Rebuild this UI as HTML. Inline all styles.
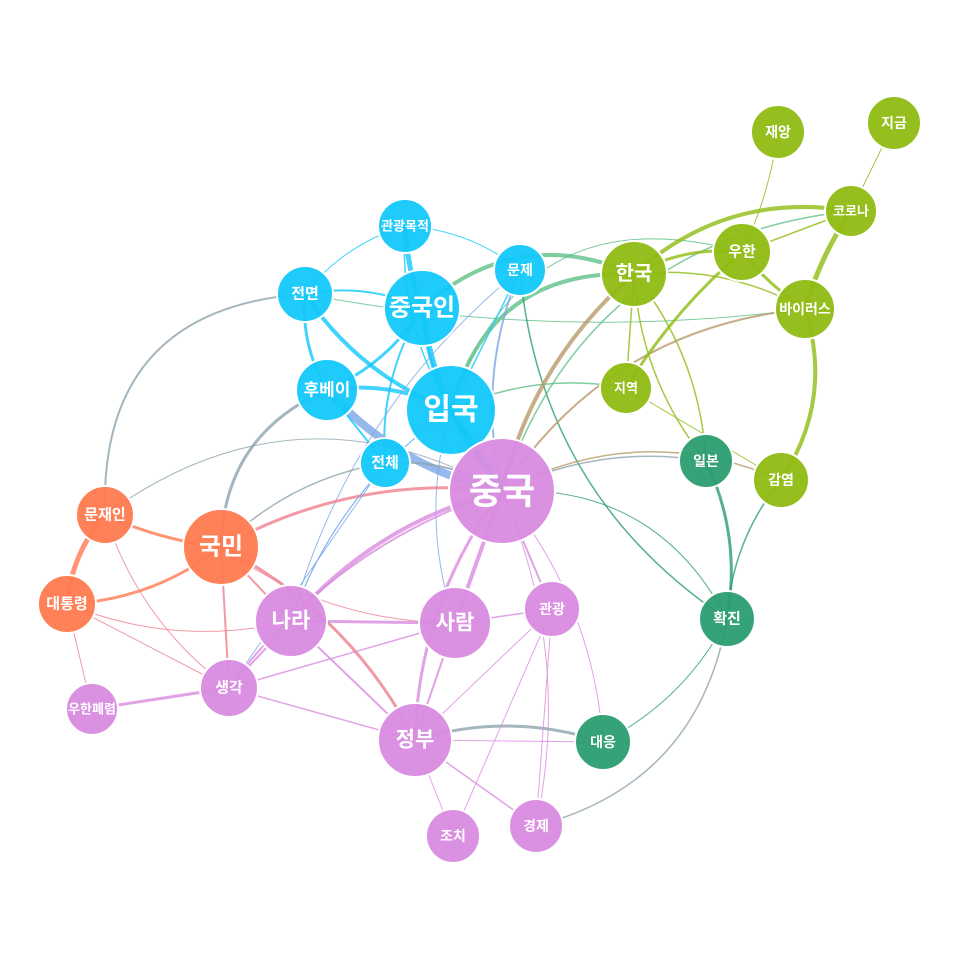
<!DOCTYPE html>
<html><head><meta charset="utf-8"><style>
html,body{margin:0;padding:0;background:#fff;width:960px;height:960px;overflow:hidden}
text{font-family:"Liberation Sans","Noto Sans CJK KR","NanumGothic",sans-serif;fill:#fff;font-weight:bold;text-anchor:middle;dominant-baseline:central}
</style></head><body>
<svg id="s" width="960" height="960" viewBox="0 0 960 960" xmlns="http://www.w3.org/2000/svg">
<g id="edges" fill="none"></g>
<g stroke="#fff" stroke-width="2" fill-opacity="0.95">
<circle cx="405" cy="226" r="27" fill="#12c8fa"/>
<circle cx="520" cy="270" r="26" fill="#12c8fa"/>
<circle cx="305" cy="294" r="28" fill="#12c8fa"/>
<circle cx="422" cy="308" r="38" fill="#12c8fa"/>
<circle cx="327" cy="390" r="31" fill="#12c8fa"/>
<circle cx="451" cy="410" r="45" fill="#12c8fa"/>
<circle cx="385" cy="463" r="25" fill="#12c8fa"/>
<circle cx="502" cy="491" r="53" fill="#d98be0"/>
<circle cx="634" cy="274" r="33" fill="#8fbc12"/>
<circle cx="742" cy="252" r="29" fill="#8fbc12"/>
<circle cx="778" cy="132" r="27" fill="#8fbc12"/>
<circle cx="894" cy="123" r="27" fill="#8fbc12"/>
<circle cx="851" cy="211" r="26" fill="#8fbc12"/>
<circle cx="805" cy="309" r="30" fill="#8fbc12"/>
<circle cx="626" cy="388" r="26" fill="#8fbc12"/>
<circle cx="706" cy="461" r="27" fill="#2a9d70"/>
<circle cx="781" cy="480" r="28" fill="#8fbc12"/>
<circle cx="727" cy="619" r="28" fill="#2a9d70"/>
<circle cx="603" cy="742" r="28" fill="#2a9d70"/>
<circle cx="105" cy="515" r="29" fill="#ff7a4f"/>
<circle cx="221" cy="547" r="38" fill="#ff7a4f"/>
<circle cx="67" cy="604" r="29" fill="#ff7a4f"/>
<circle cx="291" cy="621" r="36" fill="#d98be0"/>
<circle cx="455" cy="623" r="36" fill="#d98be0"/>
<circle cx="552" cy="609" r="28" fill="#d98be0"/>
<circle cx="229" cy="688" r="29" fill="#d98be0"/>
<circle cx="92" cy="709" r="26" fill="#d98be0"/>
<circle cx="415" cy="740" r="37" fill="#d98be0"/>
<circle cx="453" cy="836" r="27" fill="#d98be0"/>
<circle cx="536" cy="826" r="27" fill="#d98be0"/>
</g>
<g>
<text x="405" y="226" font-size="13">관광목적</text>
<text x="520" y="270" font-size="14">문제</text>
<text x="305" y="294" font-size="15">전면</text>
<text x="422" y="308" font-size="24">중국인</text>
<text x="327" y="390" font-size="17">후베이</text>
<text x="451" y="410" font-size="30">입국</text>
<text x="385" y="463" font-size="15">전체</text>
<text x="502" y="491" font-size="36">중국</text>
<text x="634" y="274" font-size="20">한국</text>
<text x="742" y="252" font-size="15">우한</text>
<text x="778" y="132" font-size="14">재앙</text>
<text x="894" y="123" font-size="14">지금</text>
<text x="851" y="211" font-size="13">코로나</text>
<text x="805" y="309" font-size="14">바이러스</text>
<text x="626" y="388" font-size="13">지역</text>
<text x="706" y="461" font-size="14">일본</text>
<text x="781" y="480" font-size="14">감염</text>
<text x="727" y="619" font-size="15">확진</text>
<text x="603" y="742" font-size="14">대응</text>
<text x="105" y="515" font-size="15">문재인</text>
<text x="221" y="547" font-size="24">국민</text>
<text x="67" y="604" font-size="15">대통령</text>
<text x="291" y="621" font-size="21">나라</text>
<text x="455" y="623" font-size="21">사람</text>
<text x="552" y="609" font-size="14">관광</text>
<text x="229" y="688" font-size="15">생각</text>
<text x="92" y="709" font-size="13">우한폐렴</text>
<text x="415" y="740" font-size="21">정부</text>
<text x="453" y="836" font-size="14">조치</text>
<text x="536" y="826" font-size="14">경제</text>
</g>
</svg>
<script>
var P={gm:[405,226],mj:[520,270],jm:[305,294],jgi:[422,308],hb:[327,390],ig:[451,410],jc:[385,463],jg:[502,491],hg:[634,274],wh:[742,252],jy:[778,132],jgm:[894,123],kr:[851,211],vr:[805,309],jy2:[626,388],il:[706,461],ge:[781,480],hj:[727,619],du:[603,742],mji:[105,515],gmn:[221,547],dt:[67,604],nr:[291,621],sr:[455,623],gw:[552,609],sg:[229,688],whp:[92,709],jb:[415,740],jc2:[453,836],gj:[536,826]};
var C='#12c8fa',G='#8fbc12',PK='#d98be0',O='#ff7a4f',T='#2a9d70',GR='#8fa4ae',TN='#b89a6a',BL='#7aa6e8',GN='#5fc08a',RD='#ee7f8f';
var E=[
['gm','jgi',5,C,0.05],['gm','mj',1,C,-0.1],['gm','ig',1.5,C,0.1],['jm','jgi',2,C,-0.1],['jm','ig',4,C,0.1],['jm','gm',1,C,-0.1],['jm','mji',2,GR,0.3],['jm','hb',3,C,0.1],['jm','vr',1,GN,0.05],
['jgi','ig',6,C,0.05],['jgi','hb',3,C,-0.1],['jgi','hg',4,GN,-0.2],['jgi','jg',2,C,0.1],['jgi','jc',2,C,0.1],
['hb','ig',4,C,-0.1],['hb','jg',8,BL,0.1],['hb','gmn',3,GR,0.2],['hb','jc',2,C,0],['ig','hg',4,GN,-0.25],['ig','jy2',1.5,GN,-0.1],['ig','jg',6,C,0],['ig','nr',1,BL,0.1],['ig','sr',1,BL,0.1],['ig','wh',1,GN,-0.3],
['mj','jg',2,BL,0.1],['mj','hj',1.5,T,0.15],['mj','nr',1,BL,0.1],['mj','ig',1.5,C,0],
['jg','hg',4,TN,-0.1],['jg','vr',2,TN,-0.15],['jg','gmn',3,RD,0.1],['jg','nr',4,PK,0.1],['jg','sr',4,PK,0],['jg','jb',3,PK,0.1],['jg','sg',2,PK,0.1],['jg','il',1.5,GR,-0.1],['jg','ge',1.5,TN,-0.15],['jg','gw',2,PK,0],['jg','du',1,PK,-0.1],['jg','gj',1,PK,-0.1],['jg','hj',1,T,-0.2],['jg','jc',2,GR,0.1],['jg','mji',1,GR,0.2],['jg','kr',1.5,GN,-0.2],
['hg','wh',3,G,-0.1],['hg','kr',4,G,-0.15],['hg','jy2',1.5,G,0],['hg','il',1.5,G,0.1],['hg','vr',1.5,G,-0.1],
['wh','vr',3,G,0.05],['wh','jy2',3,G,0.05],['wh','jy',1,G,0.05],['wh','kr',1.5,G,0],['kr','vr',5,G,0.05],['kr','jgm',1,G,0],['vr','ge',4,G,-0.15],['ge','jy2',1,G,0],['ge','hj',1.5,T,0.1],['il','hj',3,T,-0.1],['il','hg',1.5,G,0.1],
['hj','du',1,T,-0.1],['hj','gj',1.5,GR,-0.2],['du','jb',3,GR,0.1],
['mji','dt',5,O,0.1],['mji','gmn',3,O,0.05],['dt','gmn',3,O,0.1],['dt','sg',1,RD,0],['dt','nr',1,RD,0.1],['mji','sg',1,RD,0.1],['dt','whp',1,RD,0],
['gmn','jb',3,RD,-0.1],['gmn','nr',2,RD,0],['gmn','sg',2,RD,0],['gmn','sr',1,RD,0.1],['gmn','jc',1.5,GR,-0.1],
['nr','sg',2,PK,0],['nr','sr',3,PK,0],['nr','jb',2,PK,0],['nr','ig',1,BL,-0.1],['sr','sg',1.5,PK,0],['sr','jb',2,PK,0],['sr','gw',1.5,PK,0],
['whp','sg',3,PK,0],['sg','jb',1.5,PK,0],['sg','jc',1,BL,0],['jb','jc2',1,PK,0],['jb','gj',1.5,PK,0],['jb','gw',1,PK,0],['gw','gj',1,PK,0],['gw','jc2',1,PK,0],['jb','du',1,PK,0]
];
var g=document.getElementById('edges'),h='';
E.forEach(function(e){var a=P[e[0]],b=P[e[1]];var dx=b[0]-a[0],dy=b[1]-a[1];var mx=(a[0]+b[0])/2-dy*e[4]*1.6,my=(a[1]+b[1])/2+dx*e[4]*1.6;
h+='<path d="M'+a[0]+' '+a[1]+' Q'+mx+' '+my+' '+b[0]+' '+b[1]+'" stroke="'+e[3]+'" stroke-width="'+e[2]+'" stroke-opacity="0.8"/>';});
g.innerHTML=h;
</script>
</body></html>
